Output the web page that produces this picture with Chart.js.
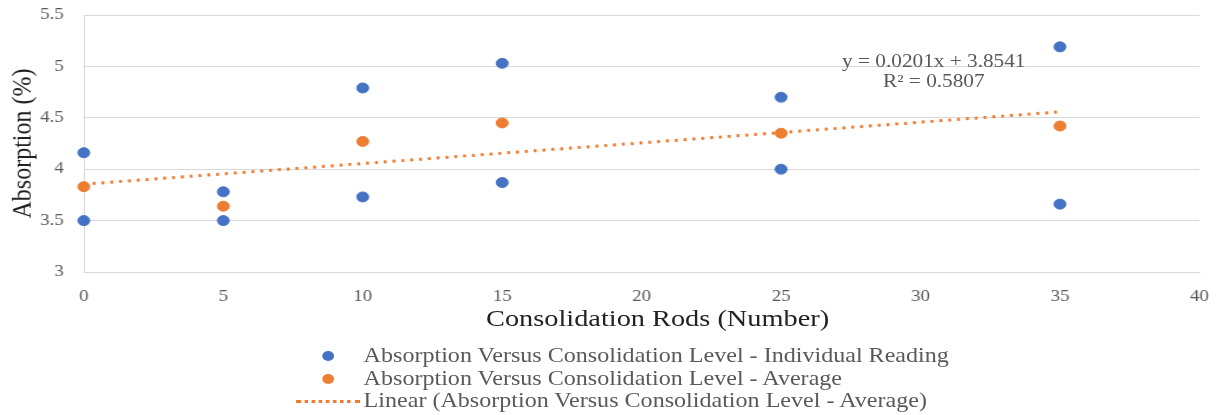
<!DOCTYPE html>
<html>
<head>
<meta charset="utf-8">
<script src="https://cdn.jsdelivr.net/npm/chart.js@4/dist/chart.umd.min.js"></script>
<style>
  body { margin: 0; background: #fff; }
  /* the reference is stretched sideways, so draw narrow and widen */
  #wrap { position: absolute; left: 0; top: 0; width: 1036px; height: 415px; transform: scaleX(1.1805); transform-origin: 0 0; }
  #eq { position: absolute; left: 691px; top: 51px; width: 200px; text-align: center; font: 18px "Liberation Serif", "Times New Roman", serif; color: #595959; line-height: 20px; }
  #xtitle { position: absolute; left: 357px; top: 303px; width: 400px; text-align: center; font: 24px "Liberation Serif", "Times New Roman", serif; color: #222; line-height: 30px; }
  .lg { position: absolute; left: 0; font: 20.4px "Liberation Serif", "Times New Roman", serif; color: #595959; white-space: nowrap; }
  .lg .txt { position: absolute; left: 308px; top: -12px; }
  .dot { position: absolute; left: 273px; top: -5px; width: 10px; height: 10px; border-radius: 50%; }
  .dash { position: absolute; left: 251px; top: -1.5px; width: 54px; height: 0; border-top: 3px dotted #ED7D31; }
</style>
</head>
<body>
<div id="wrap">
  <canvas id="chart" width="1036" height="415"></canvas>
  <div id="eq">y = 0.0201x + 3.8541<br>R² = 0.5807</div>
  <div id="xtitle">Consolidation Rods (Number)</div>
  <div id="legend"></div>
</div>
<script>
// Individual readings (two per consolidation level)
const individualX = [0, 0, 5, 5, 10, 10, 15, 15, 25, 25, 35, 35];
const individualY = [4.16, 3.5, 3.78, 3.5, 4.79, 3.73, 5.03, 3.87, 4.70, 4.00, 5.19, 3.66];

// Averages
const averageX = [0, 5, 10, 15, 25, 35];
const averageY = [3.83, 3.64, 4.27, 4.45, 4.35, 4.42];

// Linear trendline end points
const trendX = [0, 35];
const trendY = [3.854, 4.558];

const seriesNames = [
	"Absorption Versus Consolidation Level - Individual Reading",
	"Absorption Versus Consolidation Level - Average",
	"Linear (Absorption Versus Consolidation Level - Average)",
];

const BLUE = "#4472C4";
const ORANGE = "#ED7D31";
const GRID = "#d9d9d9";
const serif = '"Liberation Serif", "Times New Roman", serif';

function toPoints(xs, ys) {
	return xs.map((x, i) => ({ x, y: ys[i] }));
}

new Chart(document.getElementById("chart"), {
	type: "scatter",
	data: {
		datasets: [
			{
				label: seriesNames[0],
				data: toPoints(individualX, individualY),
				backgroundColor: BLUE,
				borderColor: BLUE,
				pointRadius: 5,
				clip: false,
				order: 2,
			},
			{
				label: seriesNames[1],
				data: toPoints(averageX, averageY),
				backgroundColor: ORANGE,
				borderColor: ORANGE,
				pointRadius: 5,
				clip: false,
				order: 1,
			},
			{
				label: seriesNames[2],
				type: "line",
				data: toPoints(trendX, trendY),
				borderColor: ORANGE,
				borderWidth: 3,
				borderDash: [2.5, 5],
				pointRadius: 0,
				fill: false,
				clip: false,
				order: 3,
			},
		],
	},
	options: {
		responsive: false,
		animation: false,
		layout: { padding: { left: 0, top: 15, right: 20, bottom: 75 } },
		plugins: {
			legend: { display: false },
			tooltip: { enabled: false },
		},
		scales: {
			x: {
				type: "linear",
				min: 0,
				max: 40,
				ticks: { stepSize: 5, padding: 15, color: "#595959", font: { family: serif, size: 16 } },
				grid: { display: false, drawTicks: false },
				border: { display: true, color: GRID },
				afterFit: (scale) => {
					scale.height = 68;
					scale.paddingLeft = 0;
					scale.paddingRight = 0;
				},
			},
			y: {
				min: 3,
				max: 5.5,
				ticks: {
					stepSize: 0.5,
					padding: 17,
					color: "#595959",
					font: { family: serif, size: 16 },
					callback: (v) => String(Math.round(v * 10) / 10),
				},
				grid: { color: GRID, drawTicks: false },
				border: { display: true, color: GRID },
				title: {
					display: true,
					text: "Absorption (%)",
					color: "#222",
					font: { family: serif, size: 24, lineHeight: 1.2 },
					padding: { top: 5, bottom: 0 },
				},
				afterFit: (scale) => {
					scale.width = 71;
					scale.paddingTop = 0;
					scale.paddingBottom = 0;
				},
			},
		},
	},
});

// Legend, stacked and left-aligned like the original
const legendRows = [356, 379, 401];
const legendEl = document.getElementById("legend");
seriesNames.forEach((name, i) => {
	const row = document.createElement("div");
	row.className = "lg";
	row.style.top = legendRows[i] + "px";
	const mark = document.createElement("span");
	if (i < 2) {
		mark.className = "dot";
		mark.style.background = i === 0 ? BLUE : ORANGE;
	} else {
		mark.className = "dash";
	}
	const txt = document.createElement("span");
	txt.className = "txt";
	txt.textContent = name;
	row.appendChild(mark);
	row.appendChild(txt);
	legendEl.appendChild(row);
});
</script>
</body>
</html>
